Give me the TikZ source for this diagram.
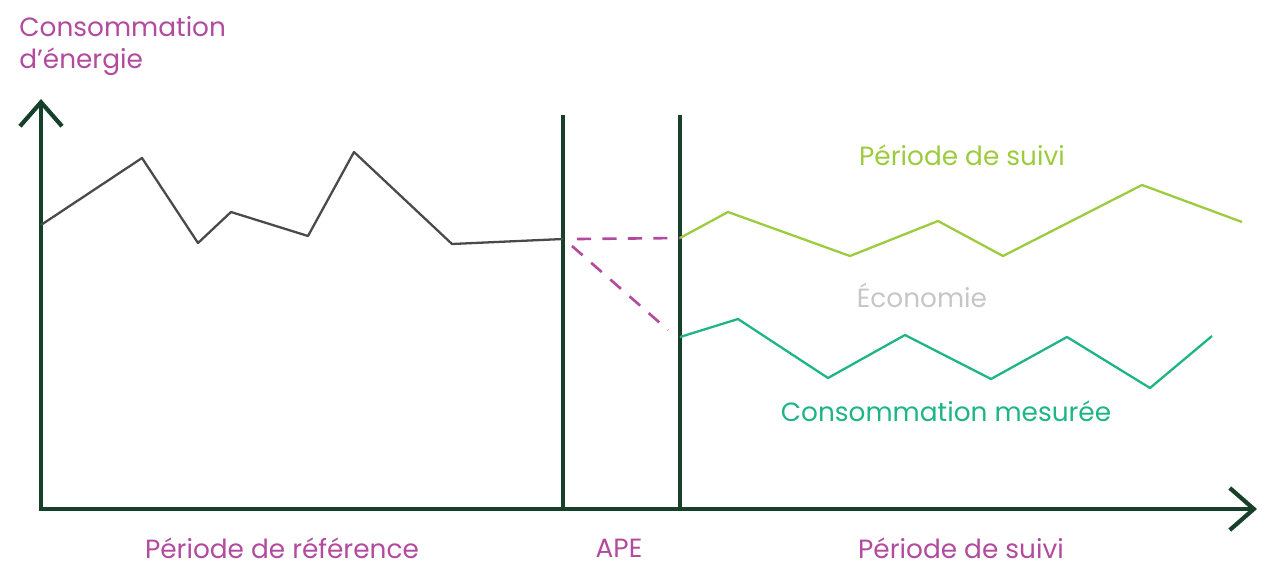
\documentclass[tikz,border=0pt]{standalone}
\usepackage{fontspec}
\setmainfont{Poppins}
\usepackage{tikz}
\usetikzlibrary{arrows.meta,positioning}
\definecolor{axisgreen}{HTML}{17402A}
\definecolor{plum}{HTML}{B24A9E}
\definecolor{lime}{HTML}{9DCB3E}
\definecolor{teal}{HTML}{1EB585}
\definecolor{refgray}{HTML}{4A4A4A}
\definecolor{savegray}{HTML}{C6C6C6}

\begin{document}
\begin{tikzpicture}[
            x=0.02cm, y=-0.02cm,
            every node/.style={font=\fontsize{15}{18.2}\selectfont, inner sep=0pt},
            axis/.style={draw=axisgreen, line width=2.4pt, -{Straight Barb[length=4.8mm, width=8.4mm, line width=2.4pt]}},
            divider/.style={draw=axisgreen, line width=1.8pt},
            curve/.style={line width=1.3pt, line join=round},
            gap/.style={draw=plum, line width=1.5pt, dash pattern=on 8pt off 6.5pt}
          ]
          \useasboundingbox (0,0) rectangle (1262,565);

          % Axes
          \coordinate (origin) at (41,509);
          \coordinate (ytop) at (41,99);
          \coordinate (xend) at (1257,509);
          \draw[axis] (origin) -- (ytop);
          \draw[axis] ([xshift=-1.2pt]origin) -- (xend);

          % APE boundaries
          \coordinate (a1) at (563,115);
          \coordinate (b1) at (680,115);
          \draw[divider] (a1) -- (563,509);
          \draw[divider] (b1) -- (680,509);

          % Reference period
          \draw[curve, refgray] (41,225) -- (142,158) -- (198,243) -- (231,212)
              -- (308,236) -- (354,152) -- (452,244) -- (563,239);

          % Follow-up period
          \coordinate (base) at (680,238);
          \coordinate (meas) at (680,337);
          \draw[curve, lime] (base) -- (728,212) -- (850,256) -- (938,221)
              -- (1003,256) -- (1142,185) -- (1242,222);
          \draw[curve, teal] (meas) -- (738,319) -- (828,378) -- (905,335)
              -- (991,379) -- (1067,337) -- (1150,388) -- (1212,336);

          % Adjusted baseline
          \draw[gap] (577,239) -- (base);
          \draw[gap] (572,246) -- (668,330);

          % Labels
          \node[anchor=north west, align=left, text=plum] (ylabel) at (19,16) {Consommation\\d’énergie};
          \node[text=lime] (suivi) at (962,155) {Période de suivi};
          \node[text=savegray] (eco) at (922,295) {Économie};
          \node[text=teal] (mesure) at (946,411) {Consommation mesurée};
          \node[text=plum] (ref) at (282,548) {Période de référence};
          \node[text=plum] (ape) at (619,548) {APE};
          \node[text=plum] (suivi2) at (961,548) {Période de suivi};

        \end{tikzpicture}
\end{document}
